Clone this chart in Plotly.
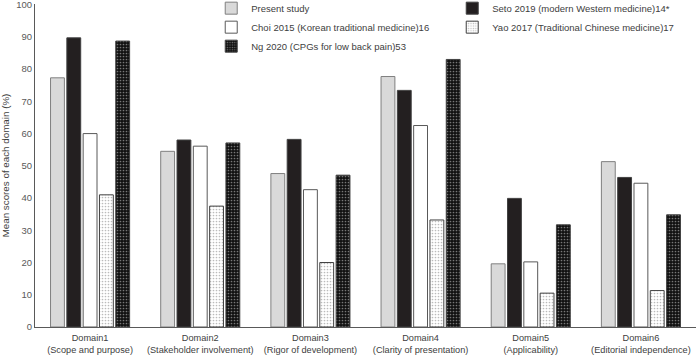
import plotly.graph_objects as go

categories = ["Domain1<br>(Scope and purpose)", "Domain2<br>(Stakeholder involvement)",
              "Domain3<br>(Rigor of development)", "Domain4<br>(Clarity of presentation)",
              "Domain5<br>(Applicability)", "Domain6<br>(Editorial independence)"]
present = [77.3, 54.5, 47.6, 77.7, 19.6, 51.3]
seto = [89.7, 58.0, 58.2, 73.4, 39.9, 46.4]
choi = [60.0, 56.1, 42.6, 62.5, 20.2, 44.6]
yao = [41.0, 37.5, 20.0, 33.2, 10.5, 11.3]
ng = [88.7, 57.1, 47.1, 83.0, 31.7, 34.8]

series = [
    ("Present study", present, dict(color="#d9d9d9", line=dict(color="#7f7f7f", width=1))),
    ("Seto 2019 (modern Western medicine)14*", seto, dict(color="#231f20", line=dict(color="#404040", width=1))),
    ("Choi 2015 (Korean traditional medicine)16", choi, dict(color="#ffffff", line=dict(color="#595959", width=1))),
    ("Yao 2017 (Traditional Chinese medicine)17", yao, dict(color="#ffffff", line=dict(color="#404040", width=1),
        pattern=dict(shape=".", fgcolor="#777777", bgcolor="#ffffff", size=3, solidity=0.25))),
    ("Ng 2020 (CPGs for low back pain)53", ng, dict(color="#111111", line=dict(color="#404040", width=1),
        pattern=dict(shape=".", fgcolor="#dddddd", bgcolor="#111111", size=3, solidity=0.25))),
]

fig = go.Figure()
for name, vals, marker in series:
    fig.add_trace(go.Bar(x=categories, y=vals, name=name, marker=marker))

fig.update_layout(
    width=697, height=355,
    margin=dict(l=35, r=1, t=4, b=28, autoexpand=False),
    plot_bgcolor="white", paper_bgcolor="white",
    barmode="group", bargap=0.26, bargroupgap=0.15,
    font=dict(family="Liberation Sans, Arial, sans-serif", size=10, color="#595959"),
    legend=dict(orientation="h", x=0.2666, y=1.032, xanchor="left", yanchor="top",
                entrywidth=196, itemwidth=30, traceorder="normal",
                font=dict(size=9.5, color="#404040"), bgcolor="rgba(0,0,0,0)",
                tracegroupgap=0),
    xaxis=dict(showline=True, linecolor="#595959", linewidth=1, ticks="", showgrid=False,
               tickangle=0, automargin=False, ticklabelstandoff=2,
               tickfont=dict(size=9.2, color="#404040")),
    yaxis=dict(range=[0, 100.2], tickvals=list(range(0, 101, 10)), showline=True,
               linecolor="#595959", linewidth=1, automargin=False, ticklabeloverflow="allow",
               showgrid=False, ticks="", zeroline=False,
               title=dict(text="Mean scores of each domain (%)", standoff=4,
                          font=dict(size=9.8, color="#404040")),
               tickfont=dict(size=9.5, color="#595959")),
)

fig.write_html("out.html", config={"displayModeBar": False},
               post_script="document.body.style.margin='0';")
